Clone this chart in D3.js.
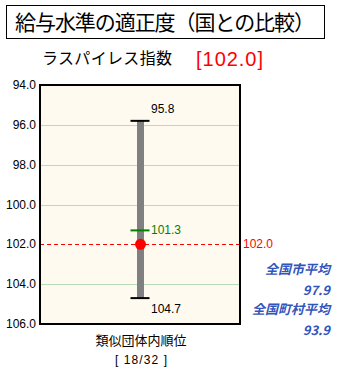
<!DOCTYPE html>
<html><head><meta charset="utf-8">
<script src="https://cdn.jsdelivr.net/npm/d3@7"></script>
<style>body{margin:0;background:#fff;} svg{display:block;}</style>
</head><body>
<script>
const title = "給与水準の適正度（国との比較）";
const subtitle = "ラスパイレス指数";
const indexValue = 102.0;
const rangeMin = 95.8;
const rangeMax = 104.7;
const groupAvg = 101.3;
const yTicks = [94, 96, 98, 100, 102, 104, 106];
const sideLabels = ["全国市平均", "97.9", "全国町村平均", "93.9"];
const rankLabel = "類似団体内順位";
const rankValue = "[ 18/32 ]";

const W = 337, H = 373;
const svg = d3.select("body").append("svg").attr("width", W).attr("height", H);
const font = "'Noto Sans CJK JP', sans-serif";
const lf = "'Liberation Sans', sans-serif";

// title box
svg.append("rect").attr("x", 6.5).attr("y", 5.5).attr("width", 318).attr("height", 33)
  .attr("fill", "#fff").attr("stroke", "#000").attr("stroke-width", 1);
svg.append("text").attr("x", 165).attr("y", 30).attr("text-anchor", "middle")
  .attr("font-family", font).attr("font-size", 21).attr("textLength", 300).attr("fill", "#000").text(title);
svg.append("text").attr("x", 42).attr("y", 64).attr("font-family", font)
  .attr("font-size", 16).attr("textLength", 130).attr("fill", "#000").text(subtitle);
svg.append("text").attr("x", 196).attr("y", 66).attr("font-family", lf)
  .attr("font-size", 20).attr("textLength", 67).attr("fill", "#f00").text("[" + indexValue.toFixed(1) + "]");

const x0 = 40, x1 = 240;
const y = d3.scaleLinear().domain([94, 106]).range([85, 324]);

svg.append("rect").attr("x", x0).attr("y", y(94)).attr("width", x1 - x0).attr("height", y(106) - y(94))
  .attr("fill", "#fffaf0");

// grid
svg.append("g").selectAll("line").data(yTicks.filter(d => d > 94 && d < 106 && d !== indexValue))
  .join("line").attr("x1", x0).attr("x2", x1).attr("y1", d => Math.round(y(d)) + 0.5).attr("y2", d => Math.round(y(d)) + 0.5)
  .attr("stroke", "#b8dcb8").attr("stroke-width", 1);

// axis labels
svg.append("g").selectAll("text").data(yTicks).join("text")
  .attr("x", 36).attr("y", d => y(d) + 4).attr("text-anchor", "end")
  .attr("font-family", lf).attr("font-size", 12).attr("fill", "#000")
  .text(d => d.toFixed(1));

// red dashed line
svg.append("line").attr("x1", x0).attr("x2", 243).attr("y1", Math.round(y(indexValue)) + 0.5).attr("y2", Math.round(y(indexValue)) + 0.5)
  .attr("stroke", "#f00").attr("stroke-width", 1).attr("stroke-dasharray", "4,3");

// border
svg.append("rect").attr("x", x0).attr("y", y(94)).attr("width", x1 - x0).attr("height", y(106) - y(94))
  .attr("fill", "none").attr("stroke", "#000").attr("stroke-width", 2);

const cx = 140.5;
svg.append("rect").attr("x", cx - 3.5).attr("y", y(rangeMin)).attr("width", 7).attr("height", y(rangeMax) - y(rangeMin))
  .attr("fill", "#808080");
[rangeMin, rangeMax].forEach(v => {
  svg.append("line").attr("x1", cx - 10).attr("x2", cx + 9).attr("y1", y(v)).attr("y2", y(v))
    .attr("stroke", "#000").attr("stroke-width", 2);
});
svg.append("line").attr("x1", cx - 10).attr("x2", cx + 9).attr("y1", y(groupAvg)).attr("y2", y(groupAvg))
  .attr("stroke", "#008000").attr("stroke-width", 2);
svg.append("circle").attr("cx", cx).attr("cy", y(indexValue)).attr("r", 5.5).attr("fill", "#f00");

svg.append("text").attr("x", 151).attr("y", y(rangeMin) - 8).attr("font-family", lf).attr("font-size", 12).text(rangeMin.toFixed(1));
svg.append("text").attr("x", 151).attr("y", y(rangeMax) + 15).attr("font-family", lf).attr("font-size", 12).text(rangeMax.toFixed(1));
svg.append("text").attr("x", 151).attr("y", y(groupAvg) + 4).attr("font-family", lf).attr("font-size", 12).attr("fill", "#008000").text(groupAvg.toFixed(1));
svg.append("text").attr("x", 243).attr("y", y(indexValue) + 4).attr("font-family", lf).attr("font-size", 12).attr("fill", "#f00").text(indexValue.toFixed(1));

// side labels
const sideY = [274, 295, 314, 335];
svg.append("g").selectAll("text").data(sideLabels).join("text")
  .attr("x", 330).attr("y", (d, i) => sideY[i]).attr("text-anchor", "end")
  .attr("font-family", font).attr("font-size", 13).attr("font-weight", "bold").attr("font-style", "italic")
  .attr("fill", "#3355bb").text(d => d);

svg.append("text").attr("x", 141).attr("y", 345).attr("text-anchor", "middle").attr("font-family", font)
  .attr("font-size", 13).text(rankLabel);
svg.append("text").attr("x", 141).attr("y", 364).attr("text-anchor", "middle").attr("font-family", lf)
  .attr("font-size", 12).attr("textLength", 52).text(rankValue);
</script>
</body></html>
